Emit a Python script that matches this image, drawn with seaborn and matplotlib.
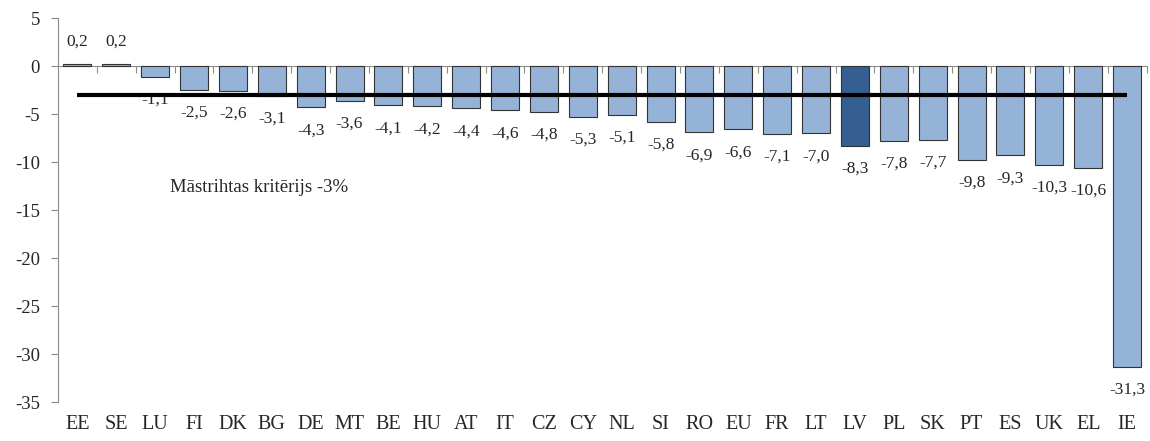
import pandas as pd
import matplotlib
matplotlib.use("Agg")
import matplotlib.pyplot as plt
import seaborn as sns

# valstis un budzeta bilance (% no IKP)
countries = ["EE", "SE", "LU", "FI", "DK", "BG", "DE", "MT", "BE", "HU", "AT", "IT", "CZ", "CY",
             "NL", "SI", "RO", "EU", "FR", "LT", "LV", "PL", "SK", "PT", "ES", "UK", "EL", "IE"]
balance = [0.2, 0.2, -1.1, -2.5, -2.6, -3.1, -4.3, -3.6, -4.1, -4.2, -4.4, -4.6, -4.8, -5.3,
           -5.1, -5.8, -6.9, -6.6, -7.1, -7.0, -8.3, -7.8, -7.7, -9.8, -9.3, -10.3, -10.6, -31.3]
criterion = -3
highlight = "LV"
yticks = list(range(-35, 6, 5))

df = pd.DataFrame({"country": countries, "balance": balance})

sns.set_style("white")
plt.rcParams["font.family"] = ["Liberation Serif", "DejaVu Serif"]
plt.rcParams["font.serif"] = ["Liberation Serif", "DejaVu Serif"]
plt.rcParams["axes.unicode_minus"] = False
fam = ["Liberation Serif", "DejaVu Serif"]

fig = plt.figure(figsize=(11.5, 4.41), dpi=100)
ax = fig.add_axes([0.0504, 0.0884, 0.9466, 0.8706])

colors = ["#365F91" if c == highlight else "#95B3D7" for c in countries]
sns.barplot(data=df, x="country", y="balance", hue="country", palette=colors, saturation=1,
            legend=False, width=0.72, edgecolor="#333333", linewidth=0.8, ax=ax)

# Māstrihtas kritērijs
ax.hlines(criterion, 0, len(countries) - 1, color="black", linewidth=3, zorder=5)
ax.text(2.38, -12.6, "Māstrihtas kritērijs -3%", fontsize=13.5, va="center", ha="left",
        family=fam)

for i, v in enumerate(balance):
    lbl = ("%.1f" % v).replace(".", ",")
    off = 16 if v > 0 else -16.5
    ax.annotate(lbl, (i, v), xytext=(0, off), textcoords="offset points",
                ha="center", va="center", fontsize=12.5, family=fam)

ax.set_ylim(-35, 5)
ax.set_xlim(-0.5, len(countries) - 0.5)
ax.set_yticks(yticks)
ax.set_yticklabels([str(t) for t in yticks], fontsize=13.5, family=fam)
ax.set_xlabel("")
ax.set_ylabel("")
for t in ax.get_xticklabels():
    t.set_family(fam)

for s in ["top", "right", "bottom"]:
    ax.spines[s].set_visible(False)
ax.spines["left"].set_color("#8c8c8c")
ax.tick_params(axis="y", length=5, color="#8c8c8c", direction="out", left=True, pad=8)
ax.tick_params(axis="x", length=0, labelsize=14.5, pad=9)

# ass pie nulles
zero_ax = ax.secondary_xaxis(0, transform=ax.transData)
zero_ax.set_xticks([i - 0.5 for i in range(len(countries) + 1)])
zero_ax.set_xticklabels([])
zero_ax.spines["bottom"].set_color("#8c8c8c")
zero_ax.tick_params(axis="x", length=5, color="#8c8c8c", direction="out")

fig.savefig("out.png", dpi=100)
